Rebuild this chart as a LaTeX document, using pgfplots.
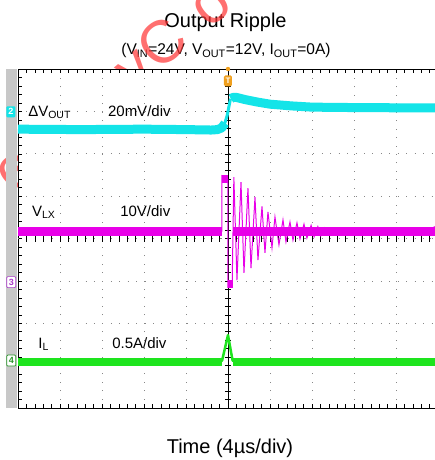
\documentclass[border=0pt]{standalone}
\usepackage{pgfplots}
\pgfplotsset{compat=1.18}
\usepackage{fontspec}
\setmainfont{Liberation Sans}
\definecolor{cyantr}{RGB}{20,228,232}
\definecolor{magtr}{RGB}{232,0,232}
\definecolor{greentr}{RGB}{30,228,30}
\definecolor{gridc}{RGB}{135,135,135}
\definecolor{barc}{RGB}{200,200,200}
\definecolor{trig}{RGB}{240,160,30}
\definecolor{wm}{RGB}{255,50,50}
\definecolor{ch3}{RGB}{170,60,200}
\definecolor{ch4}{RGB}{40,150,40}
\begin{document}
\begin{tikzpicture}[x=1pt,y=1pt]
\useasboundingbox (0,0) rectangle (435,460);
% titles
\node[anchor=base,inner sep=0,font=\fontsize{20}{24}\selectfont] at (225.5,432) {Output Ripple};
\node[anchor=base,inner sep=0,font=\fontsize{15.5}{18}\selectfont] at (226,405) {(V\textsubscript{IN}=24V, V\textsubscript{OUT}=12V, I\textsubscript{OUT}=0A)};
\node[anchor=base,inner sep=0,font=\fontsize{20}{24}\selectfont] at (230,6) {Time (4µs/div)};
% watermark
\begin{scope}[opacity=0.7]
\node[rotate=40, anchor=base east, inner sep=0, text=wm, font=\fontsize{60}{64}\selectfont\addfontfeature{LetterSpace=40}] at (158,387) {Silergy\ };
\node[rotate=40, anchor=base west, inner sep=0, text=wm, font=\fontsize{60}{64}\selectfont\addfontfeature{LetterSpace=40}] at (158,387) {Corp. Confidential};
\end{scope}
\begin{axis}[
  at={(18pt,52pt)}, anchor=south west,
  scale only axis, width=417pt, height=339pt,
  xmin=-5, xmax=4.93, ymin=0, ymax=8,
  axis x line=box, axis y line=left,
  axis line style={black, line width=0.9pt, -},
  x axis line style={-}, y axis line style={-},
  xtick={-4,...,4}, ytick={1,...,7},
  minor xtick={-4.8,-4.6,...,4.8}, minor ytick={0.2,0.4,...,7.8},
  xticklabel=\empty, yticklabel=\empty,
  tick align=inside, major tick length=3.5pt, minor tick length=3.5pt,
  tick style={black, line width=0.5pt},
  grid=major,
  major grid style={gridc, line width=0.7pt, dash pattern=on 0.8pt off 7.64pt},
  axis background/.style={fill=white},
  clip=false,
]
% left bar
\fill[barc] (axis cs:-5.286,0) rectangle (axis cs:-5.02,8);
% center lines
\draw[gridc, line width=0.7pt, dash pattern=on 0.8pt off 7.6pt] (axis cs:-5,4) -- (axis cs:4.93,4);
\draw[black, line width=0.7pt] (axis cs:0,0) -- (axis cs:0,8);
\pgfplotsinvokeforeach{0.2,0.4,...,7.8}{\draw[black,line width=0.5pt] ([xshift=-3pt]axis cs:0,#1) -- ([xshift=3pt]axis cs:0,#1);}
\pgfplotsinvokeforeach{-4.8,-4.6,...,4.8}{\draw[black,line width=0.5pt] ([yshift=-3pt]axis cs:#1,4) -- ([yshift=3pt]axis cs:#1,4);}
% cyan Delta VOUT
\addplot[cyantr, line width=9pt, line join=round] coordinates {(-5,6.58) (-3.5,6.57) (-2,6.58) (-1,6.57) (-0.4,6.56) (-0.25,6.57) (-0.15,6.61) (-0.07,6.72)};
\addplot[cyantr, line width=3pt, line join=round] coordinates {(-0.12,6.66) (-0.07,6.74) (-0.02,6.9) (0.02,7.1) (0.06,7.3)};
\addplot[cyantr, line width=9pt, line join=round] coordinates {(0.07,7.30) (0.12,7.33) (0.2,7.33) (0.4,7.28) (0.7,7.22) (1.0,7.17) (1.5,7.13) (2.0,7.10) (3.0,7.09) (4.93,7.08)};
% magenta VLX
\addplot[magtr, line width=9pt] coordinates {(-5,4.16) (-0.14,4.16)};
\addplot[magtr, line width=9pt] coordinates {(0.12,4.16) (4.93,4.16)};
\addplot[magtr, line width=8pt] coordinates {(-0.14,5.40) (0,5.40)};
\addplot[magtr, line width=8pt] coordinates {(0,2.93) (0.12,2.93)};
\addplot[magtr, line width=1pt] coordinates {(-0.143,4.16) (-0.143,5.48) (0,5.40) (0,2.85) (0.10,2.90) (0.14,5.45) (0.214,3.02) (0.310,5.33) (0.381,3.19) (0.476,5.19) (0.548,3.30) (0.643,4.98) (0.714,3.49) (0.810,4.76) (0.881,3.66) (0.952,4.63) (1.048,3.78) (1.119,4.51) (1.214,3.85) (1.310,4.44) (1.381,3.92) (1.476,4.39) (1.548,3.96) (1.643,4.37) (1.714,3.99) (1.81,4.34) (1.88,4.01) (1.98,4.31) (2.05,4.04) (2.14,4.28) (2.21,4.06) (2.3,4.25) (2.4,4.08)};
% green IL
\addplot[greentr, line width=8pt] coordinates {(-5,1.09) (-0.15,1.09)};
\addplot[greentr, line width=8pt] coordinates {(0.12,1.09) (4.93,1.09)};
\addplot[greentr, line width=2.5pt, line join=round] coordinates {(-0.2,1.09) (-0.14,1.12) (0,1.72) (0.11,1.12) (0.18,1.09)};
% labels
\node[anchor=base west, inner sep=0, font=\fontsize{15}{18}\selectfont] at (axis cs:-4.76,6.88) {ΔV\textsubscript{OUT}};
\node[anchor=base west, inner sep=0, font=\fontsize{15}{18}\selectfont] at (axis cs:-2.86,6.88) {20mV/div};
\node[anchor=base west, inner sep=0, font=\fontsize{15}{18}\selectfont] at (axis cs:-4.67,4.53) {V\textsubscript{LX}};
\node[anchor=base west, inner sep=0, font=\fontsize{15}{18}\selectfont] at (axis cs:-2.57,4.53) {10V/div};
\node[anchor=base west, inner sep=0, font=\fontsize{15}{18}\selectfont] at (axis cs:-4.52,1.40) {I\textsubscript{L}};
\node[anchor=base west, inner sep=0, font=\fontsize{15}{18}\selectfont] at (axis cs:-2.76,1.40) {0.5A/div};
% channel markers
\node[fill=cyantr, text=white, inner sep=0.5pt, rounded corners=1pt, minimum width=9pt, minimum height=11pt, font=\fontsize{9}{9}\selectfont\bfseries] at (axis cs:-5.17,6.99) {2};
\node[draw=ch3, line width=0.7pt, fill=white, text=ch3, inner sep=0.5pt, rounded corners=1pt, minimum width=9pt, minimum height=11pt, font=\fontsize{9}{9}\selectfont\bfseries] at (axis cs:-5.16,2.97) {3};
\node[draw=ch4, line width=0.7pt, fill=white, text=ch4, inner sep=0.5pt, rounded corners=1pt, minimum width=9pt, minimum height=11pt, font=\fontsize{9}{9}\selectfont\bfseries] at (axis cs:-5.16,1.12) {4};
% trigger marker
\fill[trig] (axis cs:0,8) circle (2.2pt);
\node[fill=trig, text=white, rounded corners=1.5pt, inner sep=0.5pt, minimum width=8pt, minimum height=11pt, font=\fontsize{8}{8}\selectfont\bfseries] at (axis cs:0,7.72) {T};
% right level marker
\fill[magtr] (axis cs:4.93,4.22) circle (3pt);
\end{axis}
\end{tikzpicture}
\end{document}
